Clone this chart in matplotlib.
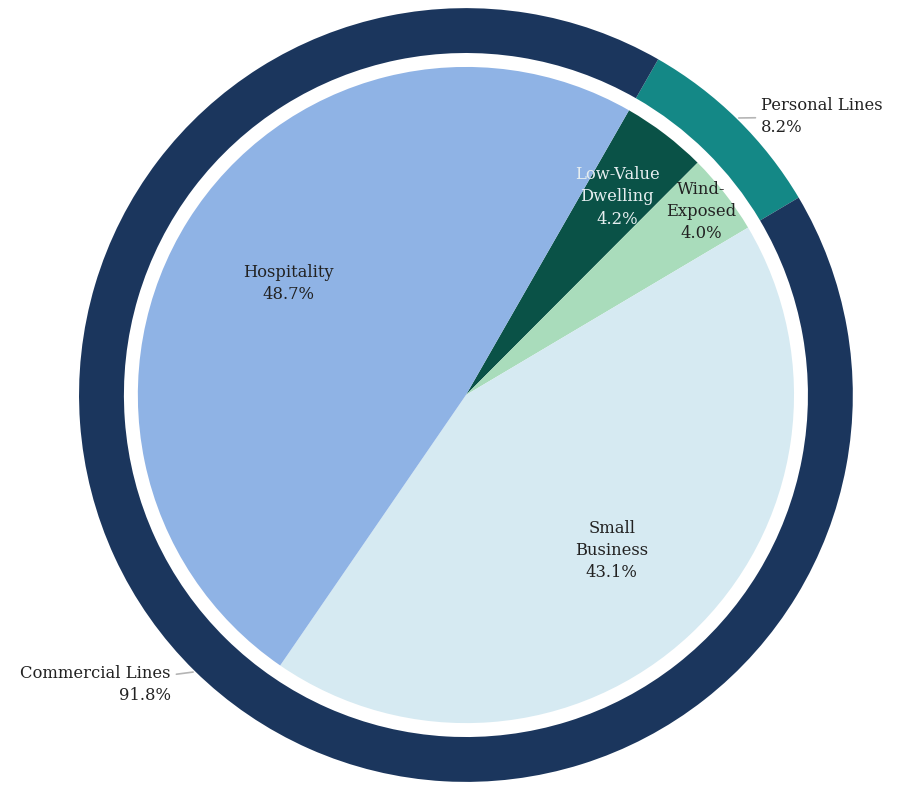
import numpy as np
import matplotlib
matplotlib.use('Agg')
from matplotlib import pyplot as plt

# outer ring (line of business)
outer_labels = ['Personal Lines', 'Commercial Lines']
outer_values = [8.2, 91.8]
outer_colors = ['#148886', '#1b365d']

# inner pie (segments)
inner_labels = ['Low-Value\nDwelling', 'Wind-\nExposed', 'Small\nBusiness', 'Hospitality']
inner_values = [4.2, 4.0, 43.1, 48.7]
inner_colors = ['#0a5247', '#a9dcbb', '#d6eaf2', '#8fb3e5']
inner_text_colors = ['#e6eef0', '#222222', '#222222', '#222222']
inner_label_dist = [0.76, 0.91, 0.65, 0.64]

start = 60.2
plt.rcParams['font.family'] = ['DejaVu Serif']

fig = plt.figure(figsize=(9.04, 7.85), dpi=100)
ax = fig.add_axes([0, 0, 1, 1])

ring_in = 0.884
pie_r = 0.848

wedges_out, _ = ax.pie(outer_values, radius=1.0, colors=outer_colors, startangle=start,
                       counterclock=False, wedgeprops=dict(width=1.0 - ring_in, linewidth=0))
wedges_in, _ = ax.pie(inner_values, radius=pie_r, colors=inner_colors, startangle=start,
                      counterclock=False, wedgeprops=dict(linewidth=0))

# inner labels
for w, lab, val, c, d in zip(wedges_in, inner_labels, inner_values, inner_text_colors, inner_label_dist):
    th = np.deg2rad((w.theta1 + w.theta2) / 2)
    ax.text(d * pie_r * np.cos(th), d * pie_r * np.sin(th), '{}\n{:.1f}%'.format(lab, val),
            ha='center', va='center', fontsize=11.8, color=c, linespacing=1.4)

# outer labels with leader lines
for w, lab, val in zip(wedges_out, outer_labels, outer_values):
    th = np.deg2rad((w.theta1 + w.theta2) / 2)
    x, y = np.cos(th), np.sin(th)
    sign = 1 if x > 0 else -1
    ax.annotate('{}\n{:.1f}%'.format(lab, val), xy=(1.005 * x, 1.005 * y),
                xytext=(1.03 * x + 0.04 * sign, 1.03 * y - 0.015),
                ha='left' if sign > 0 else 'right', va='center',
                multialignment='left' if sign > 0 else 'right',
                fontsize=11.8, color='#222222', linespacing=1.4,
                arrowprops=dict(arrowstyle='-', color='#b5b5b5', lw=1.2, shrinkA=2, shrinkB=0))

ax.set_xlim(-1.204, 1.132)
ax.set_ylim(-1.008, 1.021)
ax.set_aspect('equal')
ax.axis('off')

plt.savefig('out.png', dpi=100, facecolor='white')
